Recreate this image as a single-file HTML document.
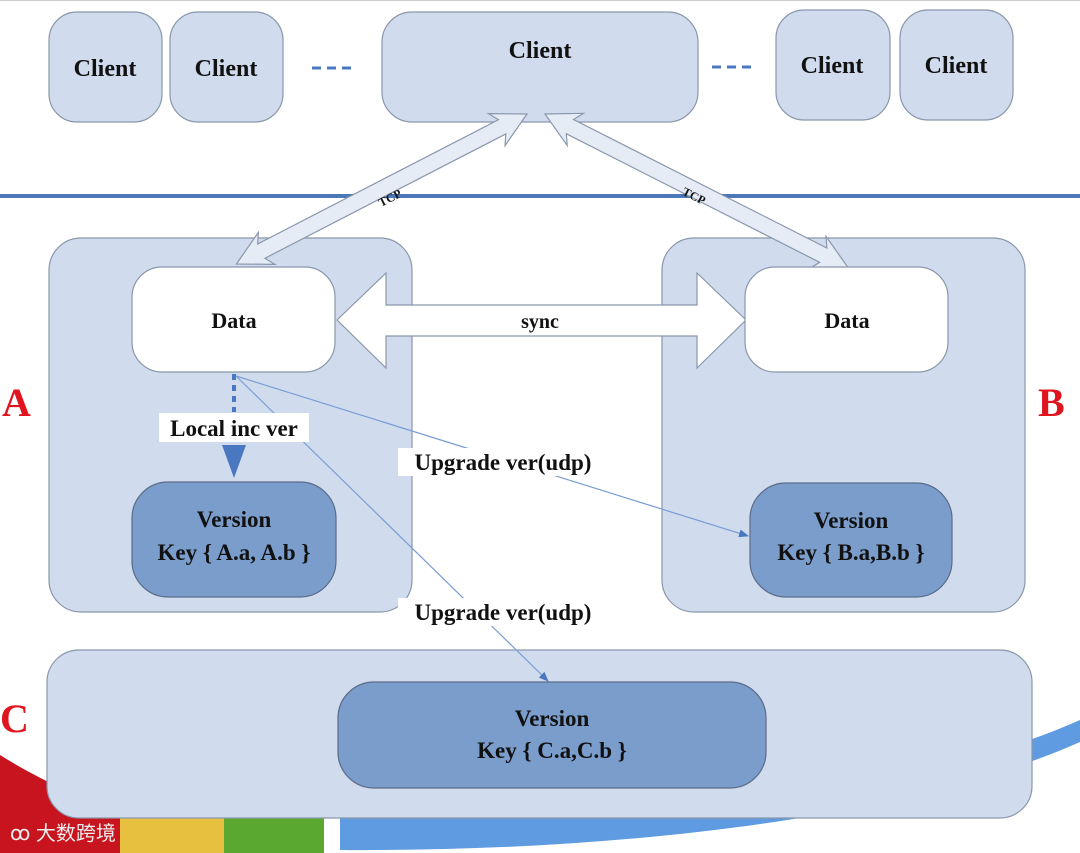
<!DOCTYPE html>
<html><head><meta charset="utf-8"><style>
html,body{margin:0;padding:0;background:#fff;}
svg{display:block;}
text{font-family:"Liberation Serif",serif;font-weight:bold;fill:#111;}
</style></head><body>
<svg width="1080" height="853" viewBox="0 0 1080 853" xmlns="http://www.w3.org/2000/svg">
<defs>
<marker id="ah" markerWidth="10" markerHeight="8" refX="9" refY="4" orient="auto" markerUnits="userSpaceOnUse"><path d="M0,0 L10,4 L0,8 Z" fill="#4a78c0"/></marker>
</defs>
<rect width="1080" height="853" fill="#fff"/>
<!-- bottom decoration -->
<path d="M0,755 C40,780 90,805 150,815 L150,853 L0,853 Z" fill="#c8141e"/>
<path d="M120,815 L225,818 L225,853 L120,853 Z" fill="#e8c040"/>
<rect x="224" y="815" width="100" height="38" fill="#5aa830"/>
<path d="M340,812 C600,830 900,800 1080,720 L1080,742 C900,822 600,852 340,850 Z" fill="#5e9be0"/>
<path d="M0,0 L1080,0" stroke="#999" stroke-width="1"/>
<!-- clients -->
<g fill="#d0dcee" stroke="#8a97aa" stroke-width="1.2">
<rect x="49" y="12" width="113" height="110" rx="28"/>
<rect x="170" y="12" width="113" height="110" rx="28"/>
<rect x="382" y="12" width="316" height="110" rx="30"/>
<rect x="776" y="10" width="114" height="110" rx="28"/>
<rect x="900" y="10" width="113" height="110" rx="28"/>
</g>
<g font-size="24" text-anchor="middle">
<text x="105" y="76">Client</text>
<text x="226" y="76">Client</text>
<text x="540" y="58">Client</text>
<text x="832" y="73">Client</text>
<text x="956" y="73">Client</text>
</g>
<g stroke="#4a78c0" stroke-width="3" stroke-dasharray="9,6">
<line x1="312" y1="68" x2="357" y2="68"/>
<line x1="712" y1="67" x2="757" y2="67"/>
</g>
<!-- divider -->
<rect x="0" y="194" width="1080" height="4" fill="#4a78b8"/>
<!-- boxes -->
<g fill="#d0dcee" stroke="#8a97aa" stroke-width="1.2">
<rect x="49" y="238" width="363" height="374" rx="32"/>
<rect x="662" y="238" width="363" height="374" rx="32"/>
<rect x="47" y="650" width="985" height="168" rx="32"/>
</g>
<!-- TCP arrows -->
<g fill="#e6ecf6" stroke="#8a97aa" stroke-width="1.2">
<path transform="translate(527,114) rotate(152.7)" d="M0,0 L34,-18 L28,-8 L299,-8 L293,-18 L327,0 L293,18 L299,8 L28,8 L34,18 Z"/>
<path transform="translate(545,114) rotate(26.9)" d="M0,0 L34,-18 L28,-8 L312,-8 L306,-18 L340,0 L306,18 L312,8 L28,8 L34,18 Z"/>
</g>
<text x="0" y="4" font-size="12" text-anchor="middle" transform="translate(390,198) rotate(-27.3)">TCP</text>
<text x="0" y="4" font-size="12" text-anchor="middle" transform="translate(694,196) rotate(26.9)">TCP</text>
<!-- sync arrow -->
<path d="M337,320 L386,273 L386,305 L697,305 L697,273 L746,320 L697,368 L697,336 L386,336 L386,368 Z" fill="#fff" stroke="#8a97aa" stroke-width="1.2"/>
<text x="540" y="328" font-size="20" text-anchor="middle">sync</text>
<!-- data boxes -->
<g fill="#fff" stroke="#8a97aa" stroke-width="1.2">
<rect x="132" y="267" width="203" height="105" rx="30"/>
<rect x="745" y="267" width="203" height="105" rx="30"/>
</g>
<text x="234" y="328" font-size="22" text-anchor="middle">Data</text>
<text x="847" y="328" font-size="22" text-anchor="middle">Data</text>
<!-- version boxes -->
<g fill="#7b9dcc" stroke="#5a6c88" stroke-width="1.2">
<rect x="132" y="482" width="204" height="115" rx="36"/>
<rect x="750" y="483" width="202" height="114" rx="36"/>
<rect x="338" y="682" width="428" height="106" rx="36"/>
</g>
<g font-size="23" text-anchor="middle">
<text x="234" y="527">Version</text>
<text x="234" y="560">Key { A.a, A.b }</text>
<text x="851" y="528">Version</text>
<text x="851" y="560">Key { B.a,B.b }</text>
<text x="552" y="726">Version</text>
<text x="552" y="758">Key { C.a,C.b }</text>
</g>
<!-- connectors -->
<line x1="234" y1="374" x2="234" y2="412" stroke="#4a78c0" stroke-width="4" stroke-dasharray="6,5"/>
<path d="M222,445 L246,445 L234,478 Z" fill="#4a78c0"/>
<line x1="236" y1="376" x2="748" y2="536" stroke="#7a9ed4" stroke-width="1.2" marker-end="url(#ah)"/>
<line x1="236" y1="376" x2="548" y2="681" stroke="#7a9ed4" stroke-width="1.2" marker-end="url(#ah)"/>
<rect x="159" y="413" width="150" height="29" fill="#fff"/>
<text x="234" y="436" font-size="23" text-anchor="middle">Local inc ver</text>
<rect x="398" y="448" width="210" height="28" fill="#fff"/>
<text x="503" y="470" font-size="23" text-anchor="middle">Upgrade ver(udp)</text>
<rect x="398" y="598" width="210" height="28" fill="#fff"/>
<text x="503" y="620" font-size="23" text-anchor="middle">Upgrade ver(udp)</text>
<!-- side labels -->
<text x="2" y="416" font-size="40" style="fill:#e0141e">A</text>
<text x="1038" y="416" font-size="40" style="fill:#e0141e">B</text>
<text x="0" y="732" font-size="40" style="fill:#e0141e">C</text>
<text x="10" y="840" font-size="20" style="fill:#eee;font-family:'Liberation Sans','Noto Sans CJK SC',sans-serif;font-weight:normal">ꝏ 大数跨境</text>
</svg>
</body></html>
